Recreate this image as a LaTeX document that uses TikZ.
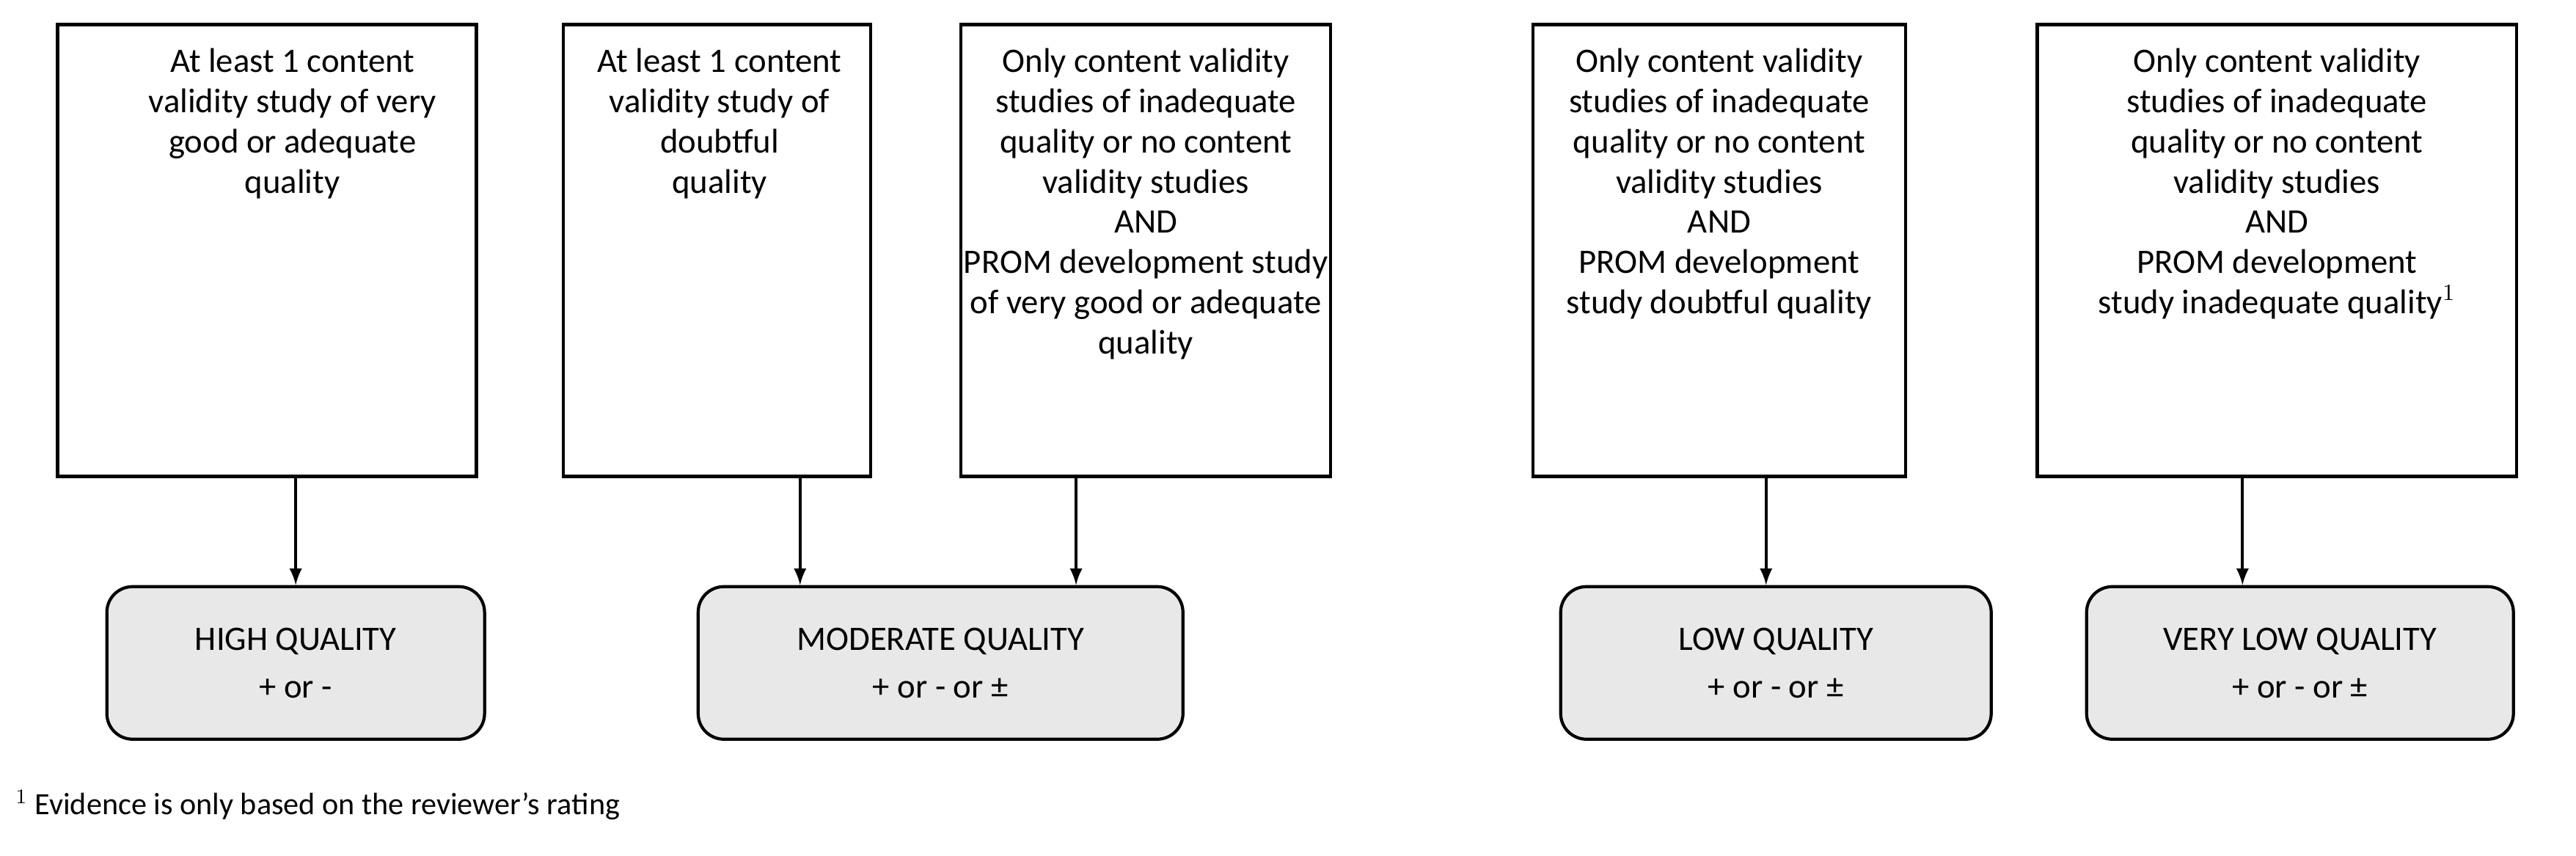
\documentclass[tikz,border=0pt]{standalone}
\usepackage{fontspec}
\setmainfont{Carlito}
\begin{document}
\begin{tikzpicture}[x=0.0224cm,y=-0.0224cm,
  crit/.style={draw,line width=1.2pt,minimum height=6.16cm,inner sep=0pt},
  crittext/.style={anchor=north,align=center,font=\fontsize{13.3}{15.6}\selectfont},
  grade/.style={draw,line width=1.2pt,rounded corners=0.35cm,fill=gray!18,minimum height=2.08cm,align=center,font=\fontsize{13.3}{18.5}\selectfont},
  arr/.style={-latex,line width=1.2pt}]
\useasboundingbox (0,0) rectangle (1568,521);
% criteria boxes
\node[crit,minimum width=5.71cm] (b1) at (162.5,152.5) {};
\node[crit,minimum width=4.19cm] (b2) at (436.5,152.5) {};
\node[crit,minimum width=5.04cm] (b3) at (697.5,152.5) {};
\node[crit,minimum width=5.08cm] (b4) at (1046.5,152.5) {};
\node[crit,minimum width=6.54cm] (b5) at (1386,152.5) {};
\node[crittext] (t1) at (178,24) {At least 1 content\\validity study of very\\good or adequate\\quality};
\node[crittext] (t2) at (438,24) {At least 1 content\\validity study of\\doubtful\\quality};
\node[crittext] (t3) at (697.5,24) {Only content validity\\studies of inadequate\\quality or no content\\validity studies\\AND\\PROM development study\\of very good or adequate\\quality};
\node[crittext] (t4) at (1046.5,24) {Only content validity\\studies of inadequate\\quality or no content\\validity studies\\AND\\PROM development\\study doubtful quality};
\node[crittext] (t5) at (1386,24) {Only content validity\\studies of inadequate\\quality or no content\\validity studies\\AND\\PROM development\\study inadequate quality$^{1}$};
% grades
\node[grade,minimum width=5.15cm] (high) at (180,403.5) {HIGH QUALITY\\+ or -};
\node[grade,minimum width=6.61cm] (mod) at (572.5,403.5) {MODERATE QUALITY\\+ or - or ±};
\node[grade,minimum width=5.87cm] (low) at (1081,403.5) {LOW QUALITY\\+ or - or ±};
\node[grade,minimum width=5.82cm] (vlow) at (1400,403.5) {VERY LOW QUALITY\\+ or - or ±};
% arrows
\coordinate (a1) at (180,0);
\coordinate (a2) at (487,0);
\coordinate (a3) at (655,0);
\coordinate (a4) at (1075,0);
\coordinate (a5) at (1365,0);
\draw[arr] (b1.south -| a1) -- (high.north -| a1);
\draw[arr] (b2.south -| a2) -- (mod.north -| a2);
\draw[arr] (b3.south -| a3) -- (mod.north -| a3);
\draw[arr] (b4.south -| a4) -- (low.north -| a4);
\draw[arr] (b5.south -| a5) -- (vlow.north -| a5);
% footnote
\node[anchor=west,font=\fontsize{12}{14}\selectfont] (fn) at (4,490) {$^{1}$ Evidence is only based on the reviewer’s rating};
\end{tikzpicture}
\end{document}
